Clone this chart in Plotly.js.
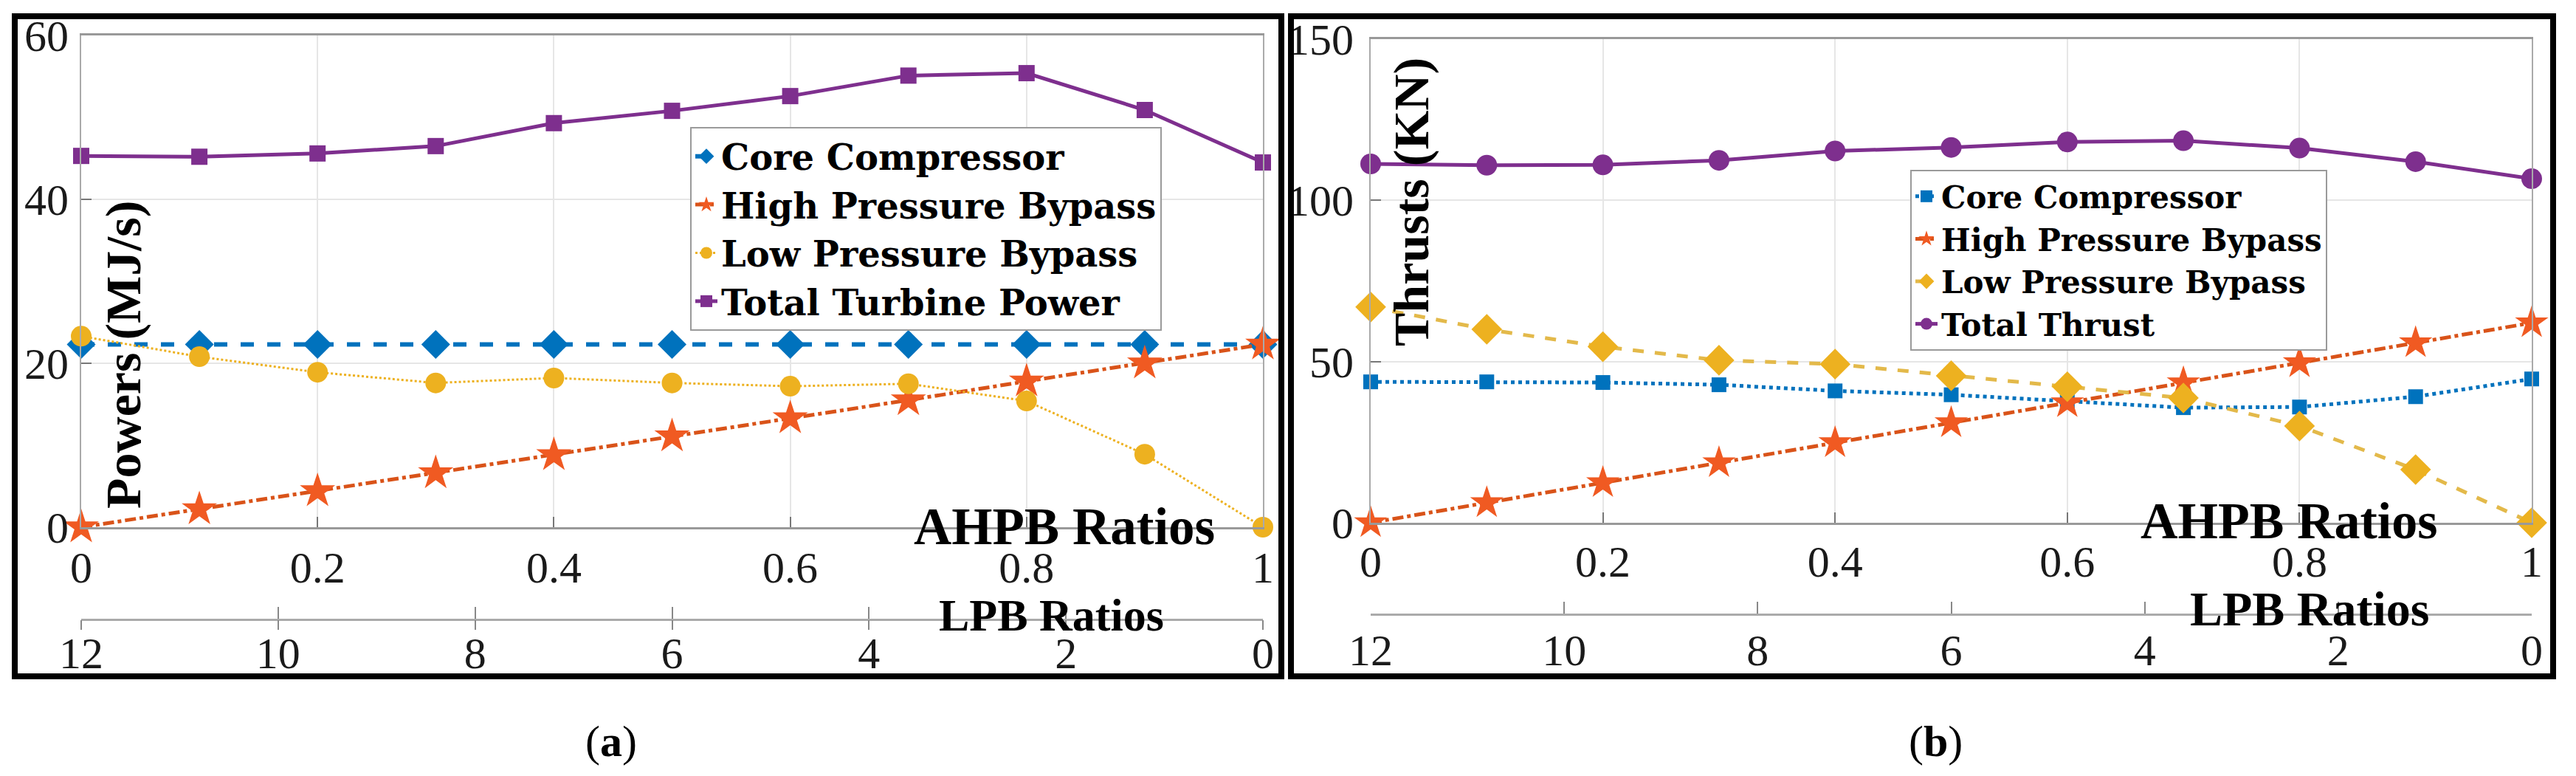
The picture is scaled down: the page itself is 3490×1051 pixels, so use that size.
<!DOCTYPE html>
<html><head><meta charset="utf-8">
<script src="https://cdn.plot.ly/plotly-3.0.1.min.js"></script>
<style>html,body{margin:0;padding:0;background:#fff;overflow:hidden}#chart{width:3490px;height:1051px}</style>
</head><body><div id="chart"></div>
<script>
// ---- data ----
const ahpbRatios = [0, 0.1, 0.2, 0.3, 0.4, 0.5, 0.6, 0.7, 0.8, 0.9, 1];
const ahpbTicks = [0, 0.2, 0.4, 0.6, 0.8, 1];
const ahpbTickText = ['0', '0.2', '0.4', '0.6', '0.8', '1'];
const lpbTicks = [12, 10, 8, 6, 4, 2, 0];
const powerTicks = [0, 20, 40, 60];
const thrustTicks = [0, 50, 100, 150];

const powerNames = ['Core Compressor', 'High Pressure Bypass', 'Low Pressure Bypass', 'Total Turbine Power'];
const thrustNames = ['Core Compressor', 'High Pressure Bypass', 'Low Pressure Bypass', 'Total Thrust'];

const powerCore  = [22.3, 22.3, 22.3, 22.3, 22.3, 22.3, 22.3, 22.3, 22.3, 22.3, 22.3];
const powerHPB   = [0, 2.2, 4.4, 6.6, 8.8, 11.1, 13.3, 15.5, 17.8, 20.0, 22.3];
const powerLPB   = [23.3, 20.8, 18.9, 17.6, 18.2, 17.6, 17.2, 17.5, 15.4, 8.9, 0];
const powerTotal = [45.3, 45.2, 45.6, 46.5, 49.3, 50.8, 52.6, 55.1, 55.4, 50.9, 44.5];

const thrustCore  = [43.7, 43.7, 43.5, 42.8, 40.9, 39.7, 37.8, 35.7, 35.9, 39.1, 44.6];
const thrustHPB   = [0, 6.2, 12.4, 18.6, 24.8, 31.0, 37.2, 43.4, 49.6, 55.8, 62.0];
const thrustLPB   = [66.9, 60.0, 54.6, 50.4, 49.2, 45.6, 42.2, 38.7, 30.0, 16.5, 0];
const thrustTotal = [111.3, 110.9, 111.0, 112.4, 115.3, 116.4, 118.1, 118.5, 116.2, 112.0, 106.7];

// ---- helpers (pixel -> paper) ----
const W = 3490, H = 1051;
const px = v => v / W;
const py = v => 1 - v / H;

const BLUE = '#0072BD', ORANGE = '#D95319', ORANGE_M = '#F05A22', YELLOW = '#EDB120', PURPLE = '#7E2F8E';

function tr(x, y, name, xa, ya, leg, color, mcolor, dash, width, symbol, size) {
  return {
    type: 'scatter', mode: 'lines+markers', x: x, y: y, name: name,
    xaxis: xa, yaxis: ya, legend: leg, cliponaxis: false,
    line: {color: color, dash: dash, width: width},
    marker: {color: mcolor, symbol: symbol, size: size, line: {width: 0}}
  };
}
// carrier for the secondary LPB-ratio axes (no visible marks)
function axisCarrier(xa, ya) {
  return {
    type: 'scatter', mode: 'markers', x: lpbTicks, y: lpbTicks.map(() => null),
    xaxis: xa, yaxis: ya, showlegend: false, hoverinfo: 'skip', marker: {opacity: 0}
  };
}

const data = [
  tr(ahpbRatios, powerCore,  powerNames[0], 'x', 'y', 'legend', BLUE, BLUE, 'dash', 6, 'diamond', 30),
  tr(ahpbRatios, powerHPB,   powerNames[1], 'x', 'y', 'legend', ORANGE, ORANGE_M, 'dashdot', 5, 'star', 36),
  tr(ahpbRatios, powerLPB,   powerNames[2], 'x', 'y', 'legend', YELLOW, YELLOW, 'dot', 3, 'circle', 28),
  tr(ahpbRatios, powerTotal, powerNames[3], 'x', 'y', 'legend', PURPLE, PURPLE, 'solid', 5, 'square', 22),
  tr(ahpbRatios, thrustCore,  thrustNames[0], 'x2', 'y2', 'legend2', BLUE, BLUE, 'dot', 5, 'square', 20),
  tr(ahpbRatios, thrustHPB,   thrustNames[1], 'x2', 'y2', 'legend2', ORANGE, ORANGE_M, 'dashdot', 5, 'star', 34),
  tr(ahpbRatios, thrustLPB,   thrustNames[2], 'x2', 'y2', 'legend2', '#E3B94A', YELLOW, 'dash', 5, 'diamond', 32),
  tr(ahpbRatios, thrustTotal, thrustNames[3], 'x2', 'y2', 'legend2', PURPLE, PURPLE, 'solid', 5, 'circle', 28),
  axisCarrier('x3', 'y'),
  axisCarrier('x4', 'y2'),
  axisCarrier('x5', 'y')
];

const tickFont = {family: 'Liberation Serif', size: 60, color: '#1a1a1a'};

function xMain(domain, anchor, standoff) {
  return {
    domain: domain, anchor: anchor, range: [0, 1], tickvals: ahpbTicks, ticktext: ahpbTickText,
    ticks: 'inside', ticklen: 14, tickwidth: 2, tickcolor: '#777',
    showline: true, linecolor: '#999', linewidth: 3, mirror: true,
    showgrid: true, gridcolor: '#e6e6e6', gridwidth: 2, zeroline: false,
    tickfont: tickFont, ticklabelstandoff: standoff, automargin: false, fixedrange: true
  };
}
function yMain(domain, anchor, range, ticks, standoff) {
  return {
    domain: domain, anchor: anchor, range: range, tickvals: ticks,
    ticks: 'inside', ticklen: 14, tickwidth: 2, tickcolor: '#777',
    showline: true, linecolor: '#aaa', linewidth: 2, mirror: true,
    showgrid: true, gridcolor: '#e6e6e6', gridwidth: 2, zeroline: false,
    tickfont: tickFont, ticklabelstandoff: standoff, automargin: false, fixedrange: true
  };
}
function xLpb(over, pos, standoff) {
  return {
    overlaying: over, anchor: 'free', position: pos, side: 'bottom',
    range: [12, 0], tickvals: lpbTicks,
    ticks: 'inside', ticklen: 16, tickwidth: 2, tickcolor: '#888',
    showline: true, linecolor: '#aaa', linewidth: 3, showgrid: false, zeroline: false,
    tickfont: tickFont, ticklabelstandoff: standoff, automargin: false, fixedrange: true
  };
}

function ann(text, x, y, size, opts) {
  return Object.assign({
    text: text, x: x, y: y, xref: 'paper', yref: 'paper', showarrow: false,
    xanchor: 'center', yanchor: 'middle',
    font: {family: 'Liberation Serif', size: size, color: '#000', weight: 'bold'}
  }, opts || {});
}

const legendBase = {
  xanchor: 'left', yanchor: 'top', bgcolor: '#ffffff', bordercolor: '#9a9a9a', borderwidth: 2,
  itemwidth: 30, tracegroupgap: 0, traceorder: 'normal'
};

const layout = {
  width: W, height: H, margin: {l: 0, r: 0, t: 0, b: 0},
  paper_bgcolor: '#fff', plot_bgcolor: '#fff', showlegend: true,
  xaxis: xMain([px(110), px(1711)], 'y', 0),
  yaxis: yMain([py(714), py(48)], 'x', [0, 60], powerTicks, 3),
  xaxis2: xMain([px(1857), px(3430)], 'y2', -2),
  yaxis2: yMain([py(708), py(53)], 'x2', [0, 150], thrustTicks, 9),
  xaxis3: xLpb('x', py(839), -8),
  xaxis4: xLpb('x2', py(832), -5),
  // lower half of the crossing LPB ticks (left panel)
  xaxis5: {overlaying: 'x', anchor: 'free', position: py(839), side: 'bottom', range: [12, 0],
           tickvals: lpbTicks, ticks: 'outside', ticklen: 13, tickwidth: 2, tickcolor: '#888',
           showticklabels: false, showline: false, showgrid: false, zeroline: false,
           automargin: false, fixedrange: true},
  legend: Object.assign({}, legendBase, {
    x: px(935), y: py(172),
    font: {family: 'DejaVu Serif', size: 48, color: '#000', weight: 'bold'}
  }),
  legend2: Object.assign({}, legendBase, {
    x: px(2588), y: py(230),
    font: {family: 'DejaVu Serif', size: 42, color: '#000', weight: 'bold'}
  }),
  annotations: [
    ann('Powers (MJ/s)', px(167), py(481), 68, {textangle: -90}),
    ann('Thrusts (KN)', px(1912), py(274), 68, {textangle: -90}),
    ann('AHPB Ratios', px(1442), py(713), 71),
    ann('AHPB Ratios', px(3101), py(705), 70),
    ann('LPB Ratios', px(1424), py(833), 62),
    ann('LPB Ratios', px(3129), py(824), 66),
    ann('(<b>a</b>)', px(828), py(1004), 60, {font: {family: 'Liberation Serif', size: 60, color: '#000'}}),
    ann('(<b>b</b>)', px(2622), py(1004), 60, {font: {family: 'Liberation Serif', size: 60, color: '#000'}})
  ],
  shapes: [
    {type: 'rect', xref: 'paper', yref: 'paper', x0: px(20), x1: px(1736), y0: py(22), y1: py(916),
     line: {color: '#000', width: 8}, fillcolor: 'rgba(0,0,0,0)', layer: 'above'},
    {type: 'rect', xref: 'paper', yref: 'paper', x0: px(1749), x1: px(3459), y0: py(22), y1: py(916),
     line: {color: '#000', width: 8}, fillcolor: 'rgba(0,0,0,0)', layer: 'above'}
  ]
};

Plotly.newPlot('chart', data, layout, {staticPlot: true, displayModeBar: false});
</script>
</body></html>
